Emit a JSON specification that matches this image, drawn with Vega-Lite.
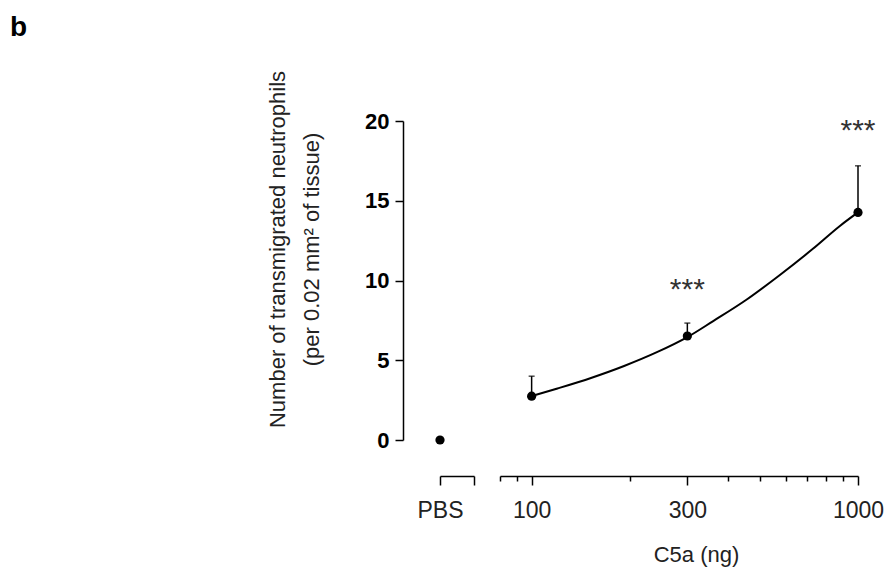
{
  "$schema": "https://vega.github.io/schema/vega-lite/v6.json",
  "background": "white",
  "padding": {"left": 10, "top": 14, "right": 5, "bottom": 5},
  "title": {"text": "b", "anchor": "start", "fontSize": 28, "fontWeight": "bold", "font": "Liberation Sans", "color": "black", "dx": -256, "offset": 28},
  "config": {
    "view": {"stroke": null},
    "font": "Liberation Sans",
    "axis": {"grid": false, "labelFlush": false, "domainColor": "black", "tickColor": "black", "domainWidth": 1.5, "tickWidth": 1.5, "labelFont": "Liberation Sans", "titleFont": "Liberation Sans", "labelOverlap": false}
  },
  "datasets": {
    "pbs": [{"pos": 0, "mean": 0}],
    "c5a": [
      {"dose": 100, "mean": 2.75, "upper": 4.0},
      {"dose": 300, "mean": 6.52, "upper": 7.33},
      {"dose": 1000, "mean": 14.27, "upper": 17.19}
    ],
    "fit": [
      {"dose": 100, "y": 2.75},
      {"dose": 120, "y": 3.23},
      {"dose": 152, "y": 3.89},
      {"dose": 192, "y": 4.64},
      {"dose": 243, "y": 5.52},
      {"dose": 300, "y": 6.45},
      {"dose": 359, "y": 7.44},
      {"dose": 455, "y": 8.79},
      {"dose": 575, "y": 10.33},
      {"dose": 729, "y": 12.0},
      {"dose": 880, "y": 13.42},
      {"dose": 1000, "y": 14.27}
    ],
    "stars": [
      {"dose": 300, "y": 9.4, "label": "***"},
      {"dose": 1000, "y": 19.4, "label": "***"}
    ]
  },
  "spacing": 24,
  "hconcat": [
    {
      "width": 34,
      "height": 319,
      "data": {"name": "pbs"},
      "mark": {"type": "point", "filled": true, "size": 85, "color": "black", "opacity": 1},
      "encoding": {
        "x": {"field": "pos", "type": "quantitative", "scale": {"domain": [0, 1], "nice": false, "zero": false},
          "axis": {"values": [0, 1], "labelExpr": "datum.value == 0 ? 'PBS' : ''", "title": null, "offset": 36, "tickSize": 9, "labelPadding": 14, "labelFontSize": 23, "labelColor": "#222"}},
        "y": {"field": "mean", "type": "quantitative", "scale": {"domain": [0, 20], "nice": false},
          "axis": {"values": [0, 5, 10, 15, 20], "offset": 37, "tickSize": 8, "labelPadding": 6, "labelFontSize": 22, "labelFontWeight": "bold", "labelColor": "black",
            "title": ["Number of transmigrated neutrophils", "(per 0.02 mm² of tissue)"],
            "titleFontSize": 22, "titleFontWeight": "normal", "titleColor": "#222", "titleAngle": -90, "titleAlign": "center", "titleBaseline": "alphabetic", "titleLineHeight": 34, "titleX": -119, "titleY": 128}}
      }
    },
    {
      "width": 358,
      "height": 319,
      "resolve": {"axis": {"x": "independent"}},
      "layer": [
        {
          "data": {"name": "fit"},
          "mark": {"type": "line", "color": "black", "strokeWidth": 2, "interpolate": "monotone"},
          "encoding": {
            "x": {"field": "dose", "type": "quantitative", "scale": {"type": "log", "domain": [80, 1000], "nice": false},
              "axis": {"orient": "bottom", "values": [100, 300, 1000], "offset": 36, "tickSize": 9, "labelPadding": 14, "labelFontSize": 23, "labelColor": "#222", "labelExpr": "datum.value",
                "title": "C5a (ng)", "titleFontSize": 22, "titleFontWeight": "normal", "titleColor": "#222", "titlePadding": 22, "titleX": 196}},
            "y": {"field": "y", "type": "quantitative", "scale": {"domain": [0, 20], "nice": false}, "axis": null}
          }
        },
        {
          "data": {"name": "c5a"},
          "mark": {"type": "errorbar", "color": "black", "ticks": {"size": 6, "thickness": 1.5}, "rule": {"strokeWidth": 1.5}},
          "encoding": {
            "x": {"field": "dose", "type": "quantitative",
              "axis": {"orient": "bottom", "values": [80, 90, 200, 400, 500, 600, 700, 800, 900], "offset": 36, "tickSize": 5, "labels": false, "domain": false, "title": null}},
            "y": {"field": "mean", "type": "quantitative", "axis": null},
            "y2": {"field": "upper"}
          }
        },
        {
          "data": {"name": "c5a"},
          "mark": {"type": "point", "filled": true, "size": 85, "color": "black", "opacity": 1},
          "encoding": {
            "x": {"field": "dose", "type": "quantitative", "axis": null},
            "y": {"field": "mean", "type": "quantitative", "axis": null}
          }
        },
        {
          "data": {"name": "stars"},
          "mark": {"type": "text", "fontSize": 30, "color": "#333", "baseline": "middle", "align": "center"},
          "encoding": {
            "x": {"field": "dose", "type": "quantitative", "axis": null},
            "y": {"field": "y", "type": "quantitative", "axis": null},
            "text": {"field": "label"}
          }
        }
      ]
    }
  ]
}
